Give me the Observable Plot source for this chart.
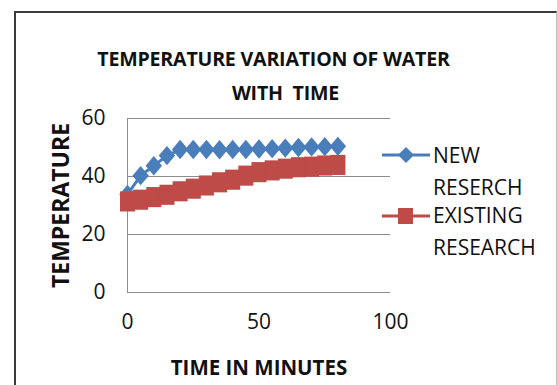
<!DOCTYPE html>
<html>
<head>
<meta charset="utf-8">
<script src="https://cdn.jsdelivr.net/npm/d3@7"></script>
<script src="https://cdn.jsdelivr.net/npm/@observablehq/plot@0.6"></script>
<style>
  html, body { margin: 0; padding: 0; background: #fff; }
  #wrap { position: relative; width: 557px; height: 385px; overflow: hidden; background: #fff;
          font-family: "Open Sans", sans-serif; }
  #frame { position: absolute; left: 14px; top: 11px; width: 540px; height: 400px;
           border-left: 2px solid #3a3a3a; border-top: 2px solid #3a3a3a; border-right: 1px solid #bfbfbf; }
  .title { position: absolute; width: 557px; text-align: center; white-space: pre;
           font-weight: bold; font-size: 19.6px; line-height: 34px; color: #111; letter-spacing: -0.2px; }
  #chart { position: absolute; left: 0; top: 0; }
  .leg { position: absolute; font-size: 21px; color: #111; line-height: 32px; }
  .sw { position: absolute; }
</style>
</head>
<body>
<div id="wrap">
  <div id="frame"></div>
  <div class="title" style="left:-5px;top:42px">TEMPERATURE VARIATION OF WATER</div>
  <div class="title" style="left:7px;top:76px">WITH  TIME</div>
  <div id="chart"></div>
  <svg class="sw" style="left:380px;top:144px" width="52" height="22">
    <line x1="2" x2="50" y1="11" y2="11" stroke="#4A7EBB" stroke-width="3"/>
    <polygon points="26,3 34,11 26,19 18,11" fill="#4A7EBB"/>
  </svg>
  <div class="leg" style="left:433px;top:139px">NEW<br>RESERCH</div>
  <svg class="sw" style="left:380px;top:205px" width="52" height="22">
    <line x1="2" x2="50" y1="11" y2="11" stroke="#BE4B48" stroke-width="3"/>
    <rect x="18" y="3" width="15" height="16" fill="#BE4B48"/>
  </svg>
  <div class="leg" style="left:433px;top:199px">EXISTING<br>RESEARCH</div>
</div>
<script>
const time = [0, 5, 10, 15, 20, 25, 30, 35, 40, 45, 50, 55, 60, 65, 70, 75, 80];
const newResearch = [33.8, 40.3, 43.7, 47.2, 49.3, 49.3, 49.3, 49.2, 49.3, 49.3, 49.5, 49.6, 49.8, 50.0, 50.2, 50.3, 50.4];
const existingResearch = [31.4, 32.0, 32.9, 33.7, 34.9, 35.8, 36.9, 38.0, 38.9, 40.3, 41.5, 42.1, 42.7, 43.2, 43.4, 43.8, 44.0];
const xTicks = [0, 50, 100];
const yTicks = [0, 20, 40, 60];
const seriesNames = ["NEW RESERCH", "EXISTING RESEARCH"];

const rows = [];
time.forEach((t, i) => {
  rows.push({time: t, temp: newResearch[i], series: seriesNames[0]});
  rows.push({time: t, temp: existingResearch[i], series: seriesNames[1]});
});
const newRows = rows.filter(d => d.series === seriesNames[0]);
const oldRows = rows.filter(d => d.series === seriesNames[1]);

// marker shapes (slightly tall, as in the reference)
const tallDiamond = {
  draw(ctx, size) {
    const r = Math.sqrt(size / Math.PI);
    const w = 0.82 * r, h = 0.97 * r;
    ctx.moveTo(0, -h); ctx.lineTo(w, 0); ctx.lineTo(0, h); ctx.lineTo(-w, 0); ctx.closePath();
  }
};
const tallSquare = {
  draw(ctx, size) {
    const r = Math.sqrt(size / Math.PI);
    const w = 0.8 * r, h = 1.07 * r;
    ctx.rect(-w, -h, 2 * w, 2 * h);
  }
};

const blue = "#4A7EBB", red = "#BE4B48", grid = "#8c8c8c";

const chart = Plot.plot({
  width: 557,
  height: 385,
  marginLeft: 127,
  marginRight: 167,
  marginTop: 118,
  marginBottom: 93,
  style: {fontFamily: "'Open Sans', sans-serif", fontSize: "21px", color: "#111", background: "transparent"},
  x: {domain: [0, 100], ticks: xTicks, tickSize: 0, tickPadding: 22, label: "TIME IN MINUTES", labelAnchor: "center", labelOffset: 82, labelArrow: "none"},
  y: {domain: [0, 60], ticks: yTicks, tickSize: 0, tickPadding: 22, label: "TEMPERATURE", labelAnchor: "center", labelOffset: 75, labelArrow: "none"},
  marks: [
    Plot.ruleY(yTicks, {stroke: grid, strokeWidth: 1}),
    Plot.ruleX([0], {stroke: grid, strokeWidth: 1}),
    Plot.line(newRows, {x: "time", y: "temp", stroke: blue, strokeWidth: 3}),
    Plot.dot(newRows, {x: "time", y: "temp", symbol: tallDiamond, r: 10, fill: blue}),
    Plot.line(oldRows, {x: "time", y: "temp", stroke: red, strokeWidth: 3}),
    Plot.dot(oldRows, {x: "time", y: "temp", symbol: tallSquare, r: 9.4, fill: red})
  ]
});
document.getElementById("chart").appendChild(chart);
// bold axis titles
chart.querySelectorAll("g[aria-label='x-axis label'], g[aria-label='y-axis label']").forEach(el => el.setAttribute("font-weight", "bold"));
chart.querySelectorAll("g[aria-label='y-axis label']").forEach(el => el.setAttribute("font-size", "23px"));
chart.querySelectorAll("g[aria-label='x-axis label']").forEach(el => el.setAttribute("font-size", "20.5px"));
</script>
</body>
</html>
